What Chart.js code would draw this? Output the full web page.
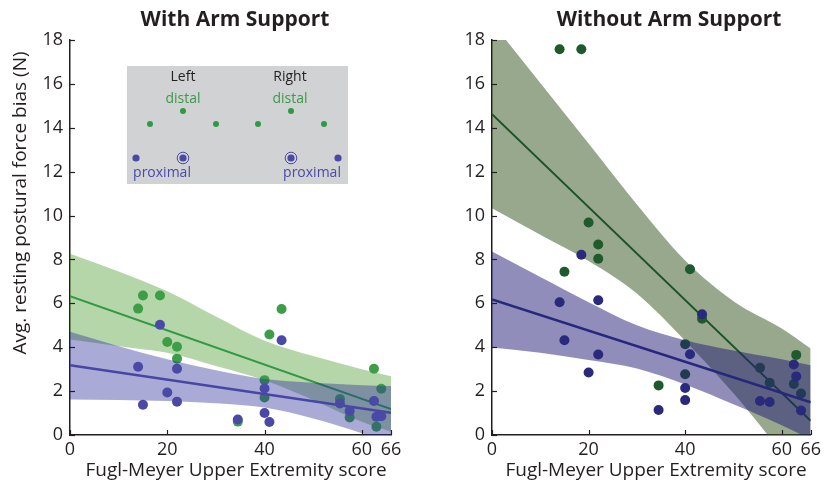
<!doctype html>
<html>
<head>
<meta charset="utf-8">
<title>Resting postural force bias</title>
<script src="https://cdn.jsdelivr.net/npm/chart.js@4.4.1/dist/chart.umd.min.js"></script>
<style>
	body { margin: 0; background: #fff; }
	#wrap { position: relative; width: 825px; height: 486px; }
	.panel { position: absolute; top: 0; height: 486px; }
</style>
</head>
<body>
<div id="wrap">
	<div class="panel" style="left:0;width:412px"><canvas id="withSupport"></canvas></div>
	<div class="panel" style="left:412px;width:413px"><canvas id="withoutSupport"></canvas></div>
</div>
<script>
// Fugl-Meyer UE score of each subject
const fmScore = [14, 15, 18.5, 20, 22, 22, 34.5, 40, 40, 41, 43.5, 55.5, 57.5, 62.5, 63, 64];

// with arm support
const withDistal = [5.76, 6.36, 6.36, 4.24, 4.02, 3.48, 0.61, 2.5, 1.71, 4.58, 5.74, 1.64, 0.8, 3.02, 0.38, 2.11];
const withProximal = [3.11, 1.38, 5.02, 1.94, 3.02, 1.52, 0.71, 2.12, 1.0, 0.59, 4.32, 1.44, 1.09, 1.55, 0.83, 0.86];

// without arm support
const withoutDistal = [17.58, 7.44, 17.58, 9.68, 8.68, 8.03, 2.26, 4.14, 2.77, 7.55, 5.3, 3.06, 2.38, 2.32, 3.65, 1.89];
const withoutProximal = [6.05, 4.32, 8.21, 2.85, 6.14, 3.67, 1.14, 2.14, 1.59, 3.68, 5.5, 1.55, 1.5, 3.21, 2.67, 1.12];

// regression fits (at x = 0 and 66) and confidence bands
const fitX = [0, 66];
const withDistalFit = [6.33, 1.18];
const withProximalFit = [3.18, 1.01];
const withoutDistalFit = [14.62, 0.65];
const withoutProximalFit = [6.18, 1.49];

const bandX = [0, 10, 20, 30, 40, 50, 60, 66];
const withDistalUpper = [8.26, 7.45, 6.55, 5.4, 4.3, 3.6, 3.0, 2.68];
const withDistalLower = [4.35, 4.05, 3.75, 3.15, 2.5, 1.6, 0.6, 0.15];
const withProximalUpper = [4.7, 4.05, 3.45, 2.95, 2.55, 2.38, 2.27, 2.23];
const withProximalLower = [1.62, 1.6, 1.55, 1.45, 1.25, 0.75, 0.08, -0.4];
const withoutDistalUpper = [18.8, 16.04, 13.28, 10.5, 7.95, 6.1, 4.85, 3.94];
const withoutDistalLower = [10.33, 9.13, 7.93, 6.45, 4.3, 1.9, -0.8, -2.5];
const withoutProximalUpper = [8.36, 7.2, 6.05, 5.0, 4.32, 3.85, 3.45, 3.18];
const withoutProximalLower = [3.99, 3.75, 3.42, 3.03, 2.3, 1.4, 0.45, -0.2];

const xTicks = [0, 20, 40, 60, 66];
const FONT = "'Open Sans', 'Noto Sans', sans-serif";
const INK = '#231f20';

function pts(xs, ys) {
	return xs.map((x, i) => ({x: x, y: ys[i]}));
}

function band(upper, lower, color, order) {
	return [{
		data: pts(bandX, upper),
		fill: '+1',
		backgroundColor: color,
		borderColor: 'transparent',
		borderWidth: 0,
		pointRadius: 0,
		cubicInterpolationMode: 'monotone',
		order: order
	}, {
		data: pts(bandX, lower),
		fill: false,
		borderColor: 'transparent',
		borderWidth: 0,
		pointRadius: 0,
		cubicInterpolationMode: 'monotone',
		order: order
	}];
}

function fit(ys, color, width, order) {
	return {data: pts(fitX, ys), borderColor: color, borderWidth: width, pointRadius: 0, fill: false, order: order};
}

function dots(ys, color, order) {
	return {
		data: pts(fmScore, ys),
		showLine: false,
		pointRadius: 5,
		pointBorderWidth: 0,
		pointBackgroundColor: color,
		pointBorderColor: color,
		order: order
	};
}

// short tick marks pointing into the plot
const innerTicks = {
	id: 'innerTicks',
	afterDraw(chart) {
		const {ctx, chartArea: a, scales: {x, y}} = chart;
		ctx.save();
		ctx.strokeStyle = INK;
		ctx.lineWidth = 1.2;
		y.ticks.forEach((t) => {
			const py = Math.round(y.getPixelForValue(t.value)) + 0.5;
			ctx.beginPath();
			ctx.moveTo(a.left, py);
			ctx.lineTo(a.left + 5, py);
			ctx.stroke();
		});
		x.ticks.forEach((t) => {
			const px = Math.round(x.getPixelForValue(t.value)) + 0.5;
			ctx.beginPath();
			ctx.moveTo(px, a.bottom);
			ctx.lineTo(px, a.bottom - 5);
			ctx.stroke();
		});
		ctx.restore();
	}
};

function text(ctx, str, x, y, font, color) {
	ctx.font = font;
	ctx.fillStyle = color;
	ctx.textAlign = 'center';
	ctx.textBaseline = 'middle';
	ctx.fillText(str, x, y);
}

function makePanel(id, cfg) {
	const W = cfg.width;
	return new Chart(document.getElementById(id), {
		type: 'line',
		data: {datasets: cfg.datasets},
		options: {
			responsive: true,
			maintainAspectRatio: false,
			animation: false,
			layout: {padding: {top: 40, right: W - cfg.right, bottom: 0, left: 0}},
			plugins: {legend: {display: false}, tooltip: {enabled: false}},
			scales: {
				x: {
					type: 'linear',
					min: 0,
					max: 66,
					afterFit(s) { s.height = 51; },
					afterBuildTicks(s) { s.ticks = xTicks.map((v) => ({value: v})); },
					grid: {display: false, drawTicks: false},
					border: {display: true, color: INK, width: 1.5},
					ticks: {autoSkip: false, maxRotation: 0, padding: 4, color: INK, font: {family: FONT, size: 18}}
				},
				y: {
					min: 0,
					max: 18,
					afterFit(s) { s.width = cfg.left; },
					grid: {display: false, drawTicks: false},
					border: {display: true, color: INK, width: 1.5},
					ticks: {stepSize: 2, padding: 7, color: INK, font: {family: FONT, size: 18}}
				}
			}
		},
		plugins: [innerTicks, {id: 'decor', afterDraw: cfg.decor}]
	});
}

makePanel('withSupport', {
	width: 412, left: 70, right: 391,
	datasets: [
		...band(withDistalUpper, withDistalLower, 'rgba(70,152,37,0.4)', 6),
		fit(withDistalFit, '#2f9a45', 2, 5),
		dots(withDistal, '#3c9f48', 4),
		...band(withProximalUpper, withProximalLower, 'rgba(42,42,155,0.4)', 3),
		fit(withProximalFit, '#4646a4', 2.6, 2),
		dots(withProximal, '#4a4aa6', 1)
	],
	decor(chart) {
		const ctx = chart.ctx;
		ctx.save();
		text(ctx, 'With Arm Support', 235, 20, 'bold 21px ' + FONT, INK);
		text(ctx, 'Fugl-Meyer Upper Extremity score', 236, 471, '19px ' + FONT, INK);
		ctx.translate(21, 203);
		ctx.rotate(-Math.PI / 2);
		text(ctx, 'Avg. resting postural force bias (N)', 0, 0, '19px ' + FONT, INK);
		ctx.setTransform(1, 0, 0, 1, 0, 0);

		// electrode layout key
		ctx.fillStyle = '#d1d2d4';
		ctx.fillRect(127, 66, 221, 118);
		text(ctx, 'Left', 183, 77, '14px ' + FONT, INK);
		text(ctx, 'Right', 290, 77, '14px ' + FONT, INK);
		text(ctx, 'distal', 183, 99, '14px ' + FONT, '#3a9a48');
		text(ctx, 'distal', 290, 99, '14px ' + FONT, '#3a9a48');
		text(ctx, 'proximal', 162, 173, '14px ' + FONT, '#4a4aa6');
		text(ctx, 'proximal', 312, 173, '14px ' + FONT, '#4a4aa6');
		ctx.fillStyle = '#2f9a45';
		[[150, 124], [183, 111], [216, 124], [258, 124], [291, 111], [324, 124]].forEach(([px, py]) => {
			ctx.beginPath(); ctx.arc(px, py, 3, 0, Math.PI * 2); ctx.fill();
		});
		ctx.fillStyle = '#4a4aa6';
		[[136, 158], [183, 158], [291, 158], [338, 158]].forEach(([px, py]) => {
			ctx.beginPath(); ctx.arc(px, py, 3.6, 0, Math.PI * 2); ctx.fill();
		});
		ctx.strokeStyle = '#4a4aa6';
		ctx.lineWidth = 1;
		[[183, 158], [291, 158]].forEach(([px, py]) => {
			ctx.beginPath(); ctx.arc(px, py, 5.8, 0, Math.PI * 2); ctx.stroke();
		});
		ctx.restore();
	}
});

makePanel('withoutSupport', {
	width: 413, left: 80, right: 401,
	datasets: [
		...band(withoutDistalUpper, withoutDistalLower, 'rgba(49,81,25,0.5)', 6),
		fit(withoutDistalFit, '#1b5428', 2, 5),
		dots(withoutDistal, '#1f5a2d', 4),
		...band(withoutProximalUpper, withoutProximalLower, 'rgba(33,27,119,0.5)', 3),
		fit(withoutProximalFit, '#27277e', 2.6, 2),
		dots(withoutProximal, '#2a2a7c', 1)
	],
	decor(chart) {
		const ctx = chart.ctx;
		ctx.save();
		text(ctx, 'Without Arm Support', 257, 20, 'bold 21px ' + FONT, INK);
		text(ctx, 'Fugl-Meyer Upper Extremity score', 244, 471, '19px ' + FONT, INK);
		ctx.restore();
	}
});
</script>
</body>
</html>
